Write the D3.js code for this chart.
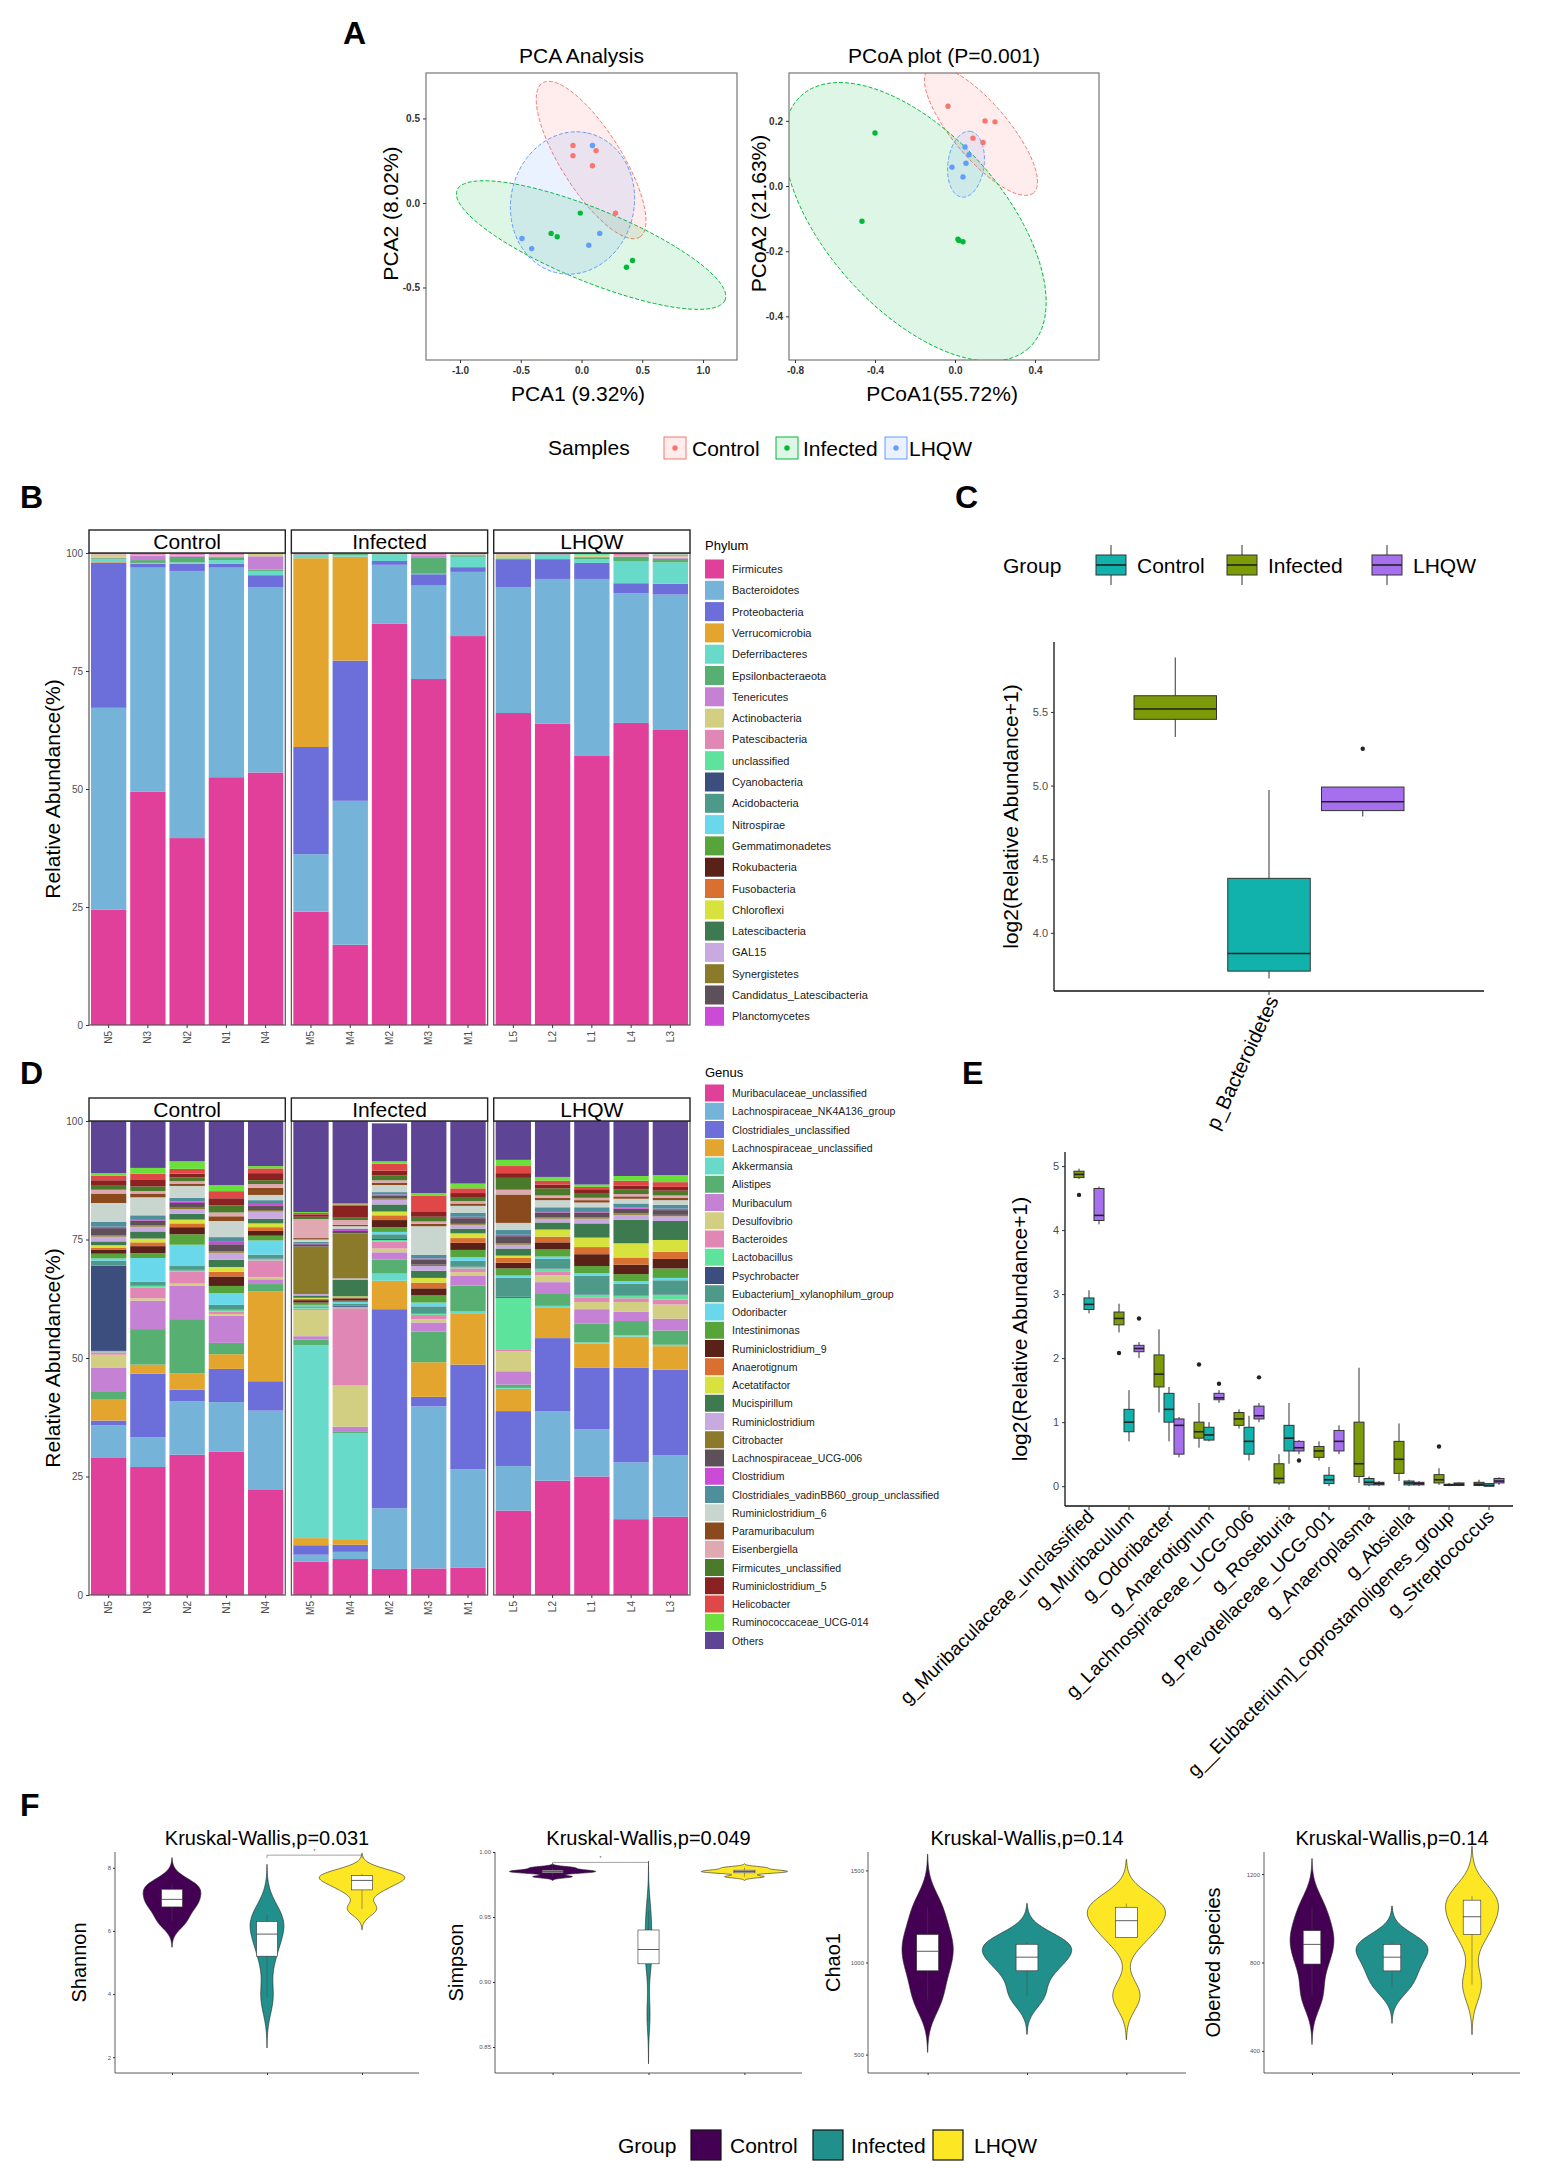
<!DOCTYPE html>
<html>
<head>
<meta charset="utf-8">
<script src="https://cdn.jsdelivr.net/npm/d3@7"></script>
<style>
  body { margin: 0; background: #fff; }
  text { font-family: "Liberation Sans", Arial, sans-serif; }
</style>
</head>
<body>
<svg id="fig" width="1562" height="2167"></svg>
<script>
// ---------------- data ----------------
const groups = ["Control", "Infected", "LHQW"];

// A: ordination scores
const pcaControl = [[-0.07, 0.34], [-0.07, 0.28], [0.12, 0.31], [0.09, 0.22], [0.28, -0.06]];
const pcaInfected = [[-0.01, -0.06], [-0.25, -0.18], [-0.20, -0.20], [0.37, -0.38], [0.42, -0.34]];
const pcaLHQW = [[0.09, 0.34], [0.15, -0.18], [0.06, -0.25], [-0.49, -0.21], [-0.41, -0.27]];
// ellipse: centre x, centre y, first semi-axis (dx, dy), second semi-axis (dx, dy)
const pcaEllipses = [
  [0.079, 0.254, 0.40, -0.456, 0.21, 0.095],
  [0.079, -0.249, 1.103, -0.325, -0.114, -0.198],
  [-0.074, 0.0, 0.124, 0.414, 0.496, -0.077]
];
const pcoaControl = [[-0.035, 0.245], [0.15, 0.20], [0.20, 0.197], [0.09, 0.147], [0.14, 0.134]];
const pcoaInfected = [[-0.40, 0.163], [-0.465, -0.108], [0.02, -0.167], [0.04, -0.171], [0.015, -0.163]];
const pcoaLHQW = [[0.05, 0.12], [0.055, 0.07], [-0.015, 0.058], [0.04, 0.028], [0.07, 0.096]];
const pcoaEllipses = [
  [0.13, 0.169, 0.2625, -0.19, -0.105, -0.055],
  [-0.20, -0.110, 0.568, -0.388, -0.3275, -0.180],
  [0.055, 0.067, 0.02, 0.101, 0.09, -0.006]
];

// B / D: samples per facet
const samplesByGroup = [["N5", "N3", "N2", "N1", "N4"], ["M5", "M4", "M2", "M3", "M1"], ["L5", "L2", "L1", "L4", "L3"]];

const phylumNames = ["Firmicutes", "Bacteroidotes", "Proteobacteria", "Verrucomicrobia", "Deferribacteres",
  "Epsilonbacteraeota", "Tenericutes", "Actinobacteria", "Patescibacteria", "unclassified", "Cyanobacteria",
  "Acidobacteria", "Nitrospirae", "Gemmatimonadetes", "Rokubacteria", "Fusobacteria", "Chloroflexi",
  "Latescibacteria", "GAL15", "Synergistetes", "Candidatus_Latescibacteria", "Planctomycetes"];
const phylumColors = ["#E0409A", "#76B3D8", "#6C6FDA", "#E3A52E", "#67DAC9", "#58AF72", "#C581D3", "#D3CF82",
  "#E087B5", "#5DE39B", "#3C4E7E", "#4E9A8A", "#68D8EA", "#57A43A", "#5A2119", "#D9702F", "#D7E23F",
  "#3D7A4F", "#C9AAE0", "#8B7A2A", "#5E5058", "#CB4BD6"];
const phylumControl = [
  [24.4, 42.8, 30.8, 0.1, 0.6, 0.2, 0.1, 0.7, 0.2, 0.1],
  [49.4, 47.5, 0.8, 0, 0.2, 0.6, 1.0, 0.1, 0.3, 0.1],
  [39.6, 56.6, 1.5, 0, 0.3, 1.2, 0.2, 0.1, 0.4, 0.1],
  [52.5, 44.4, 0.8, 0, 0.8, 0.6, 0.2, 0.2, 0.4, 0.1],
  [53.5, 39.3, 2.5, 0, 0.9, 0.3, 2.8, 0.5, 0.1, 0.1]
];
const phylumInfected = [
  [24.0, 12.2, 22.7, 40.0, 0.6, 0.2, 0.1, 0.1, 0, 0.1],
  [17.0, 30.5, 29.7, 22.0, 0.4, 0.2, 0.1, 0, 0, 0.1],
  [85.0, 12.5, 0.8, 0, 1.4, 0.2, 0, 0.1, 0, 0],
  [73.3, 19.8, 2.4, 0, 0.1, 3.5, 0.4, 0, 0.4, 0.1],
  [82.4, 13.6, 1.0, 0, 2.2, 0.2, 0.3, 0.1, 0.2, 0]
];
const phylumLHQW = [
  [66.1, 26.7, 5.9, 0, 0.1, 0.1, 0, 0.8, 0.1, 0.2],
  [63.8, 30.7, 4.2, 0, 0.8, 0.2, 0.1, 0.1, 0, 0.1],
  [57.0, 37.5, 3.4, 0, 0.8, 0.4, 0.1, 0.3, 0.1, 0.4],
  [64.0, 27.5, 2.1, 0, 4.7, 0.9, 0.1, 0.1, 0.4, 0.2],
  [62.5, 28.7, 2.3, 0, 4.5, 0.8, 0.2, 0.3, 0.4, 0.3]
];

const genusNames = ["Muribaculaceae_unclassified", "Lachnospiraceae_NK4A136_group", "Clostridiales_unclassified",
  "Lachnospiraceae_unclassified", "Akkermansia", "Alistipes", "Muribaculum", "Desulfovibrio", "Bacteroides",
  "Lactobacillus", "Psychrobacter", "Eubacterium]_xylanophilum_group", "Odoribacter", "Intestinimonas",
  "Ruminiclostridium_9", "Anaerotignum", "Acetatifactor", "Mucispirillum", "Ruminiclostridium", "Citrobacter",
  "Lachnospiraceae_UCG-006", "Clostridium", "Clostridiales_vadinBB60_group_unclassified", "Ruminiclostridium_6",
  "Paramuribaculum", "Eisenbergiella", "Firmicutes_unclassified", "Ruminiclostridium_5", "Helicobacter",
  "Ruminococcaceae_UCG-014", "Others"];
const genusColors = ["#E0409A", "#76B3D8", "#6C6FDA", "#E3A52E", "#67DAC9", "#58AF72", "#C581D3", "#D3CF82",
  "#E087B5", "#5DE39B", "#3C4E7E", "#4E9A8A", "#68D8EA", "#57A43A", "#5A2119", "#D9702F", "#D7E23F",
  "#3D7A4F", "#C9AAE0", "#8B7A2A", "#5E5058", "#CB4BD6", "#4F8E9B", "#C9D6D0", "#8B4A1E", "#E0A8B0",
  "#4A7A2A", "#8B2222", "#E04848", "#6BE03A", "#5E4494"];
const genusControl = [
  [28.9, 6.9, 1.0, 4.4, 0, 1.8, 4.9, 2.8, 0.5, 0.3, 18.0, 1.0, 0.5, 1.0, 0.8, 0.5, 0.5, 0.8, 1.0, 0.3, 1.5, 0.3, 1.0, 4.0, 2.0, 0.8, 1.0, 1.0, 1.0, 0.5, 11.0],
  [27.0, 6.3, 13.4, 1.9, 0, 7.5, 6.0, 0.5, 2.3, 0.3, 0.1, 0.8, 5.0, 1.0, 1.5, 0.8, 0.8, 1.5, 1.0, 0.3, 1.0, 0.3, 0.8, 3.8, 0.8, 0.5, 1.0, 1.5, 1.2, 1.2, 9.9],
  [29.6, 11.3, 2.4, 3.5, 0, 11.4, 7.0, 0.5, 2.5, 0.3, 0.1, 0.8, 4.5, 2.2, 1.5, 0.8, 0.8, 1.2, 1.0, 0.3, 1.0, 0.3, 0.8, 2.5, 0.5, 0.5, 0.8, 0.8, 1.0, 1.6, 8.4],
  [30.2, 10.5, 7.0, 3.1, 0, 2.4, 5.7, 0.4, 0.5, 0.3, 0.1, 1.0, 2.5, 1.5, 2.0, 1.0, 1.0, 1.5, 1.5, 0.3, 1.5, 0.5, 1.0, 3.4, 1.0, 0.8, 1.5, 1.5, 1.5, 1.3, 13.5],
  [22.3, 16.6, 6.2, 19.0, 0, 1.5, 1.0, 0.5, 3.5, 0.3, 0.1, 0.8, 3.0, 1.0, 1.0, 0.8, 0.8, 1.0, 1.5, 0.3, 1.0, 0.3, 0.8, 1.1, 1.5, 0.8, 0.8, 1.5, 1.0, 0.5, 9.5]
];
const genusInfected = [
  [7.0, 1.5, 2.0, 1.5, 40.7, 1.2, 0.7, 5.5, 0.3, 0.2, 0, 0.3, 0.3, 0.5, 0.5, 0.3, 0.2, 0.5, 0.3, 10.0, 0.5, 0.2, 0.3, 0.5, 0.3, 4.0, 0.5, 0.5, 0.3, 0.2, 19.2],
  [7.6, 1.5, 1.5, 1.0, 22.5, 0.3, 1.1, 8.7, 16.3, 0.3, 0.2, 0.5, 0.3, 0.3, 0.5, 0.2, 0.2, 3.5, 0.3, 9.5, 0.5, 0.2, 0.3, 0.5, 0.3, 1.0, 0.5, 2.5, 0.3, 0.2, 17.4],
  [5.5, 12.8, 42.0, 6.0, 1.5, 3.0, 1.5, 0.8, 1.5, 0.3, 0.2, 1.0, 0.5, 1.0, 1.5, 1.0, 0.8, 1.5, 1.0, 0.3, 0.5, 0.3, 0.5, 1.5, 0.5, 0.5, 1.0, 1.0, 1.5, 0.5, 8.0],
  [5.6, 34.2, 2.0, 7.3, 0, 6.5, 1.9, 0.7, 0.9, 0.2, 0.1, 1.5, 0.8, 1.5, 1.5, 1.2, 1.0, 1.5, 1.0, 0.3, 1.0, 0.3, 0.8, 6.0, 0.5, 0.5, 1.0, 1.0, 3.5, 0.5, 15.2],
  [5.8, 20.7, 22.1, 10.7, 0.5, 5.5, 2.0, 0.8, 0.8, 0.3, 0.1, 1.2, 0.8, 1.5, 1.5, 1.0, 1.0, 1.0, 0.8, 0.2, 1.2, 0.3, 0.8, 1.5, 0.5, 0.5, 0.7, 1.0, 1.0, 1.0, 13.2]
];
const genusLHQW = [
  [17.8, 9.4, 11.6, 4.7, 0.2, 0.7, 2.8, 4.2, 0.3, 11.0, 0.2, 4.0, 0.5, 1.5, 1.2, 1.0, 0.5, 1.5, 0.8, 0.3, 1.5, 0.3, 1.0, 1.5, 6.0, 1.0, 2.5, 1.0, 1.5, 1.3, 8.2],
  [24.1, 14.7, 15.4, 6.5, 0.3, 2.5, 2.5, 1.5, 0.8, 0.5, 0.1, 2.0, 0.5, 1.5, 1.5, 1.2, 1.5, 1.5, 0.8, 0.3, 1.0, 0.3, 0.8, 1.5, 0.5, 0.5, 1.5, 0.8, 0.8, 0.8, 11.8],
  [25.0, 10.0, 13.0, 5.0, 0.3, 4.0, 3.0, 1.5, 1.0, 0.5, 0.1, 4.0, 0.5, 1.5, 2.5, 1.5, 2.0, 3.0, 1.0, 0.3, 1.0, 0.3, 0.8, 1.0, 0.5, 0.5, 1.0, 0.8, 0.5, 0.5, 13.4],
  [16.0, 12.0, 20.0, 6.5, 0.3, 3.0, 2.0, 2.0, 0.8, 0.5, 0.1, 2.5, 0.5, 1.5, 2.0, 1.5, 3.0, 5.0, 1.0, 0.3, 1.0, 0.3, 0.8, 1.0, 0.5, 0.5, 1.0, 0.8, 1.0, 1.0, 11.6],
  [16.5, 13.0, 18.0, 5.0, 0.3, 3.0, 2.5, 3.0, 1.0, 1.0, 0.1, 3.0, 0.5, 2.0, 2.0, 1.5, 2.5, 4.0, 1.0, 0.3, 1.0, 0.3, 0.8, 1.0, 0.5, 0.5, 1.0, 0.8, 1.0, 1.5, 11.4]
];

// C / E: box statistics [lower whisker, q1, median, q3, upper whisker, outliers]
const boxColors = { Control: "#12B2AC", Infected: "#7D9B08", LHQW: "#A56FEE" };
const dodgeOrder = ["Infected", "Control", "LHQW"];
const cCategory = ["p_Bacteroidetes"];
const cControl = [[3.69, 3.74, 3.86, 4.37, 4.97, []]];
const cInfected = [[5.33, 5.45, 5.52, 5.61, 5.87, []]];
const cLHQW = [[4.79, 4.83, 4.89, 4.99, 4.99, [5.25]]];

const eCategories = ["g_Muribaculaceae_unclassified", "g_Muribaculum", "g_Odoribacter", "g_Anaerotignum",
  "g_Lachnospiraceae_UCG-006", "g_Roseburia", "g_Prevotellaceae_UCG-001", "g_Anaeroplasma", "g_Absiella",
  "g__Eubacterium]_coprostanoligenes_group", "g_Streptococcus"];
const eInfected = [
  [4.80, 4.82, 4.87, 4.92, 4.96, [4.55]], [2.40, 2.52, 2.62, 2.72, 2.85, [2.08]], [1.15, 1.55, 1.75, 2.05, 2.45, []],
  [0.60, 0.75, 0.85, 1.00, 1.30, [1.90]], [0.90, 0.95, 1.05, 1.15, 1.20, []], [0.02, 0.05, 0.12, 0.35, 0.50, []],
  [0.40, 0.45, 0.55, 0.62, 0.70, []], [0.05, 0.15, 0.35, 1.00, 1.85, []], [0.08, 0.20, 0.42, 0.70, 0.98, []],
  [0.02, 0.05, 0.10, 0.18, 0.28, [0.62]], [0, 0.01, 0.03, 0.06, 0.10, []]
];
const eControl = [
  [2.70, 2.76, 2.84, 2.94, 3.06, []], [0.70, 0.85, 1.00, 1.20, 1.50, []], [0.70, 1.00, 1.20, 1.45, 1.55, []],
  [0.70, 0.72, 0.80, 0.92, 1.00, []], [0.40, 0.50, 0.70, 0.92, 1.10, []], [0.35, 0.55, 0.75, 0.95, 1.30, []],
  [0.00, 0.04, 0.10, 0.17, 0.30, []], [0.00, 0.02, 0.06, 0.12, 0.15, []], [0.00, 0.02, 0.05, 0.08, 0.10, []],
  [0, 0.01, 0.02, 0.03, 0.05, []], [0, 0, 0.01, 0.04, 0.05, []]
];
const eLHQW = [
  [4.09, 4.15, 4.23, 4.65, 4.68, []], [2.00, 2.10, 2.15, 2.20, 2.25, [2.62]], [0.45, 0.50, 0.95, 1.05, 1.08, []],
  [1.30, 1.35, 1.38, 1.45, 1.50, [1.60]], [1.00, 1.05, 1.10, 1.25, 1.30, [1.70]], [0.50, 0.55, 0.60, 0.70, 0.72, [0.40]],
  [0.50, 0.55, 0.70, 0.87, 0.95, []], [0.00, 0.02, 0.04, 0.06, 0.08, []], [0.00, 0.02, 0.04, 0.06, 0.08, []],
  [0, 0.01, 0.03, 0.05, 0.06, []], [0.02, 0.05, 0.08, 0.12, 0.14, []]
];

// F: alpha diversity per sample (Control, Infected, LHQW)
const violinColors = { Control: "#440154", Infected: "#21908C", LHQW: "#FDE725" };
const shannon = [[6.3, 6.76, 7.0, 7.32, 7.5], [3.9, 5.2, 5.9, 6.3, 6.5], [6.7, 7.3, 7.6, 7.75, 7.8]];
const simpson = [[0.981, 0.984, 0.985, 0.986, 0.988], [0.875, 0.914, 0.925, 0.94, 0.955], [0.981, 0.984, 0.985, 0.986, 0.988]];
const chao1 = [[800, 955, 1061, 1152, 1300], [820, 955, 1029, 1099, 1110], [820, 1136, 1227, 1300, 1320]];
const observed = [[650, 793, 882, 944, 1050], [690, 762, 824, 882, 890], [700, 927, 1007, 1082, 1100]];
const fTitles = ["Kruskal-Wallis,p=0.031", "Kruskal-Wallis,p=0.049", "Kruskal-Wallis,p=0.14", "Kruskal-Wallis,p=0.14"];
const fLabels = ["Shannon", "Simpson", "Chao1", "Oberved species"];

// ---------------- drawing ----------------
const svg = d3.select("#fig");
svg.append("rect").attr("width", 1562).attr("height", 2167).attr("fill", "#fff");
const sampleColors = ["#F8766D", "#00BA38", "#619CFF"];

function txt(x, y, s, size, o = {}) {
  const t = svg.append("text").attr("x", x).attr("y", y).attr("font-size", size)
    .attr("fill", o.fill || "#000").attr("text-anchor", o.anchor || "start").text(s);
  if (o.bold) t.attr("font-weight", "bold");
  if (o.rotate) t.attr("transform", `rotate(${o.rotate},${x},${y})`);
  return t;
}

function styleAxis(a, size, color, bold) {
  a.select(".domain").remove();
  a.selectAll(".tick line").attr("stroke", "#333");
  a.selectAll(".tick text").attr("font-size", size).attr("fill", color)
    .attr("font-family", "'Liberation Sans', Arial, sans-serif")
    .attr("font-weight", bold ? "bold" : "normal");
}

// panel letters
[["A", 343, 44], ["B", 20, 508], ["C", 955, 508], ["D", 20, 1084], ["E", 962, 1084], ["F", 20, 1816]]
  .forEach(d => txt(d[1], d[2], d[0], 32, { bold: true }));

// ---- A ----
function scatterPanel(o) {
  const x = d3.scaleLinear().domain(o.xDomain).range([o.left, o.right]);
  const y = d3.scaleLinear().domain(o.yDomain).range([o.bottom, o.top]);
  const g = svg.append("g");
  g.append("clipPath").attr("id", o.id).append("rect")
    .attr("x", o.left).attr("y", o.top).attr("width", o.right - o.left).attr("height", o.bottom - o.top);
  const body = g.append("g").attr("clip-path", `url(#${o.id})`);
  const angles = d3.range(0, 2 * Math.PI, Math.PI / 90);
  o.ellipses.forEach((e, i) => {
    const pts = angles.map(t => [x(e[0] + e[2] * Math.cos(t) + e[4] * Math.sin(t)),
                                 y(e[1] + e[3] * Math.cos(t) + e[5] * Math.sin(t))]);
    body.append("path").attr("d", d3.line().curve(d3.curveLinearClosed)(pts))
      .attr("fill", sampleColors[i]).attr("fill-opacity", 0.13)
      .attr("stroke", sampleColors[i]).attr("stroke-width", 1).attr("stroke-dasharray", "4,2");
  });
  o.points.forEach((pts, i) => {
    body.append("g").selectAll("circle").data(pts).join("circle")
      .attr("cx", d => x(d[0])).attr("cy", d => y(d[1])).attr("r", 2.7).attr("fill", sampleColors[i]);
  });
  g.append("rect").attr("x", o.left).attr("y", o.top).attr("width", o.right - o.left)
    .attr("height", o.bottom - o.top).attr("fill", "none").attr("stroke", "#777").attr("stroke-width", 1.2);
  g.append("g").attr("transform", `translate(0,${o.bottom})`)
    .call(d3.axisBottom(x).tickValues(o.xTicks).tickSize(3).tickPadding(4).tickFormat(d => d.toFixed(1)))
    .call(a => styleAxis(a, 10, "#333", true));
  g.append("g").attr("transform", `translate(${o.left},0)`)
    .call(d3.axisLeft(y).tickValues(o.yTicks).tickSize(3).tickPadding(3).tickFormat(d => d.toFixed(1)))
    .call(a => styleAxis(a, 10, "#333", true));
  txt((o.left + o.right) / 2, 63, o.title, 21, { anchor: "middle" });
  txt(o.xLabelX, 401, o.xLabel, 21, { anchor: "middle" });
  txt(o.yLabelX, (o.top + o.bottom) / 2 - 3, o.yLabel, 21, { anchor: "middle", rotate: -90 });
}

scatterPanel({
  id: "clipPCA", left: 426, right: 737, top: 73, bottom: 360,
  xDomain: [-1.28, 1.28], yDomain: [-0.929, 0.769],
  xTicks: [-1, -0.5, 0, 0.5, 1], yTicks: [-0.5, 0, 0.5],
  points: [pcaControl, pcaInfected, pcaLHQW], ellipses: pcaEllipses,
  title: "PCA Analysis", xLabel: "PCA1 (9.32%)", xLabelX: 578, yLabel: "PCA2 (8.02%)", yLabelX: 398
});
scatterPanel({
  id: "clipPCoA", left: 789, right: 1099, top: 73, bottom: 360,
  xDomain: [-0.83, 0.72], yDomain: [-0.534, 0.347],
  xTicks: [-0.8, -0.4, 0, 0.4], yTicks: [-0.4, -0.2, 0, 0.2],
  points: [pcoaControl, pcoaInfected, pcoaLHQW], ellipses: pcoaEllipses,
  title: "PCoA plot (P=0.001)", xLabel: "PCoA1(55.72%)", xLabelX: 942, yLabel: "PCoA2 (21.63%)", yLabelX: 766
});

// samples legend
txt(548, 455, "Samples", 21);
[[664, 692], [776, 803], [885, 909]].forEach((p, i) => {
  svg.append("rect").attr("x", p[0]).attr("y", 437).attr("width", 22).attr("height", 22)
    .attr("fill", sampleColors[i]).attr("fill-opacity", 0.13).attr("stroke", sampleColors[i]).attr("stroke-width", 1);
  svg.append("circle").attr("cx", p[0] + 11).attr("cy", 448).attr("r", 2.7).attr("fill", sampleColors[i]);
  txt(p[1], 456, groups[i], 21);
});

// ---- B & D stacked bars ----
function stackPanel(o) {
  const fx = d3.scaleBand().domain(groups).range([89, 690]).paddingInner(0.03);
  const y = d3.scaleLinear().domain([0, 100]).range([o.bottom, o.top]);
  groups.forEach((grp, gi) => {
    const px = fx(grp), pw = fx.bandwidth();
    const x = d3.scaleBand().domain(samplesByGroup[gi]).range([px, px + pw]).paddingInner(0.1).paddingOuter(0.05);
    const rows = samplesByGroup[gi].map((s, si) => {
      const r = { sample: s };
      o.names.forEach((n, k) => { r[n] = o.data[gi][si][k] || 0; });
      return r;
    });
    const series = d3.stack().keys(o.names)(rows);
    const g = svg.append("g");
    g.selectAll("g").data(series).join("g").attr("fill", (d, k) => o.colors[k])
      .selectAll("rect").data(d => d).join("rect")
      .attr("x", d => x(d.data.sample)).attr("width", x.bandwidth())
      .attr("y", d => y(Math.min(d[1], 100))).attr("height", d => Math.max(0, y(d[0]) - y(Math.min(d[1], 100))));
    g.append("rect").attr("x", px).attr("y", o.top).attr("width", pw).attr("height", o.bottom - o.top)
      .attr("fill", "none").attr("stroke", "#555").attr("stroke-width", 1.2);
    g.append("rect").attr("x", px).attr("y", o.stripTop).attr("width", pw).attr("height", o.top - o.stripTop)
      .attr("fill", "#fff").attr("stroke", "#222").attr("stroke-width", 1.4);
    g.append("text").attr("x", px + pw / 2).attr("y", o.top - 4).attr("text-anchor", "middle")
      .attr("font-size", 21).text(grp);
    g.append("g").attr("transform", `translate(0,${o.bottom})`)
      .call(d3.axisBottom(x).tickSize(3))
      .call(a => styleAxis(a, 10, "#4d4d4d", false))
      .selectAll(".tick text").attr("transform", "rotate(-90)").attr("text-anchor", "end")
      .attr("x", -6).attr("y", 0).attr("dy", "0.35em");
  });
  svg.append("g").attr("transform", `translate(89,0)`)
    .call(d3.axisLeft(y).tickValues([0, 25, 50, 75, 100]).tickSize(3).tickPadding(3))
    .call(a => styleAxis(a, 10, "#4d4d4d", false));
  txt(60, (o.top + o.bottom) / 2, "Relative Abundance(%)", 21, { anchor: "middle", rotate: -90 });
  // legend
  txt(705, o.legendTitleY, o.legendTitle, 13);
  o.names.forEach((n, k) => {
    const cy = o.legendY0 + k * o.legendStep;
    svg.append("rect").attr("x", 705).attr("y", cy - o.swatch / 2).attr("width", 19).attr("height", o.swatch)
      .attr("fill", o.colors[k]);
    txt(732, cy + 4, n, o.legendFont, { fill: "#1a1a1a" });
  });
}

stackPanel({
  names: phylumNames, colors: phylumColors, data: [phylumControl, phylumInfected, phylumLHQW],
  stripTop: 530, top: 553, bottom: 1025,
  legendTitle: "Phylum", legendTitleY: 550, legendY0: 569, legendStep: 21.3, swatch: 19, legendFont: 11
});
stackPanel({
  names: genusNames, colors: genusColors, data: [genusControl, genusInfected, genusLHQW],
  stripTop: 1098, top: 1121, bottom: 1595,
  legendTitle: "Genus", legendTitleY: 1077, legendY0: 1093, legendStep: 18.25, swatch: 17, legendFont: 10.5
});

// ---- C & E boxplots ----
function drawBox(g, cx, w, y, s, color) {
  const [lo, q1, med, q3, hi, outs] = s;
  g.append("line").attr("x1", cx).attr("x2", cx).attr("y1", y(hi)).attr("y2", y(q3)).attr("stroke", "#333").attr("stroke-width", 1);
  g.append("line").attr("x1", cx).attr("x2", cx).attr("y1", y(q1)).attr("y2", y(lo)).attr("stroke", "#333").attr("stroke-width", 1);
  g.append("rect").attr("x", cx - w / 2).attr("y", y(q3)).attr("width", w).attr("height", Math.max(1, y(q1) - y(q3)))
    .attr("fill", color).attr("stroke", "#333").attr("stroke-width", 1);
  g.append("line").attr("x1", cx - w / 2).attr("x2", cx + w / 2).attr("y1", y(med)).attr("y2", y(med))
    .attr("stroke", "#222").attr("stroke-width", 1.6);
  g.selectAll(null).data(outs).join("circle").attr("cx", cx).attr("cy", d => y(d)).attr("r", 2.2).attr("fill", "#222");
}

function boxPanel(o) {
  const x = d3.scaleBand().domain(o.categories).range([o.left, o.right]).paddingInner(0).paddingOuter(0.1);
  const y = d3.scaleLinear().domain(o.yDomain).range([o.bottom, o.top]);
  const g = svg.append("g");
  o.categories.forEach((c, ci) => {
    const cx = x(c) + x.bandwidth() / 2;
    const dx = d3.scaleBand().domain(dodgeOrder).range([cx - o.dodge / 2, cx + o.dodge / 2]).paddingInner(o.gap);
    dodgeOrder.forEach(gr => {
      const s = o.data[gr][ci];
      drawBox(g, dx(gr) + dx.bandwidth() / 2, dx.bandwidth(), y, s, boxColors[gr]);
    });
  });
  g.append("line").attr("x1", o.left).attr("x2", o.left).attr("y1", o.top).attr("y2", o.bottom).attr("stroke", "#111").attr("stroke-width", 1.3);
  g.append("line").attr("x1", o.left).attr("x2", o.right).attr("y1", o.bottom).attr("y2", o.bottom).attr("stroke", "#111").attr("stroke-width", 1.3);
  g.append("g").attr("transform", `translate(${o.left},0)`)
    .call(d3.axisLeft(y).tickValues(o.yTicks).tickSize(3).tickPadding(3).tickFormat(o.fmt))
    .call(a => styleAxis(a, 11, "#4d4d4d", false));
  const xa = g.append("g").attr("transform", `translate(0,${o.bottom})`)
    .call(d3.axisBottom(x).tickSize(4))
    .call(a => styleAxis(a, o.xFont, "#000", false));
  xa.selectAll(".tick text").attr("transform", `rotate(${-o.angle})`).attr("text-anchor", "end")
    .attr("x", -4).attr("y", 6).attr("dy", "0.35em");
  txt(o.yLabelX, (o.top + o.bottom) / 2, "log2(Relative Abundance+1)", 21, { anchor: "middle", rotate: -90 });
}

boxPanel({
  categories: cCategory, left: 1054, right: 1484, top: 642, bottom: 991,
  yDomain: [3.605, 5.975], yTicks: [4.0, 4.5, 5.0, 5.5], fmt: d => d.toFixed(1),
  data: { Control: cControl, Infected: cInfected, LHQW: cLHQW }, dodge: 270, gap: 0.12,
  angle: 65, xFont: 20, yLabelX: 1018
});
// C legend
txt(1003, 573, "Group", 21);
[[1096, 1137], [1227, 1268], [1372, 1413]].forEach((p, i) => {
  const gr = groups[i];
  svg.append("line").attr("x1", p[0] + 15).attr("x2", p[0] + 15).attr("y1", 545).attr("y2", 585).attr("stroke", "#333");
  svg.append("rect").attr("x", p[0]).attr("y", 555).attr("width", 30).attr("height", 20)
    .attr("fill", boxColors[gr]).attr("stroke", "#333");
  svg.append("line").attr("x1", p[0]).attr("x2", p[0] + 30).attr("y1", 565).attr("y2", 565).attr("stroke", "#222").attr("stroke-width", 1.6);
  txt(p[1], 573, gr, 21);
});

boxPanel({
  categories: eCategories, left: 1065, right: 1513, top: 1152, bottom: 1506,
  yDomain: [-0.31, 5.22], yTicks: [0, 1, 2, 3, 4, 5], fmt: d3.format("d"),
  data: { Control: eControl, Infected: eInfected, LHQW: eLHQW }, dodge: 30, gap: 0,
  angle: 45, xFont: 19, yLabelX: 1027
});

// ---- F violins (untrimmed kernel density, nrd0 bandwidth) ----
function kde(values, n) {
  const sd = d3.deviation(values);
  const iqr = d3.quantile(values, 0.75) - d3.quantile(values, 0.25);
  const h = 0.9 * Math.min(sd, iqr / 1.34 || sd) * Math.pow(values.length, -0.2);
  const lo = d3.min(values) - 3 * h, hi = d3.max(values) + 3 * h;
  return d3.range(n + 1).map(i => {
    const v = lo + (hi - lo) * i / n;
    const dens = d3.mean(values, d => Math.exp(-0.5 * ((v - d) / h) ** 2) / (h * Math.sqrt(2 * Math.PI)));
    return [v, dens];
  });
}

function violinPanel(o) {
  const step = (o.right - o.left) / 3.2;
  const x = d3.scalePoint().domain(groups).range([o.left + 0.6 * step, o.right - 0.6 * step]);
  const y = d3.scaleLinear().domain(o.yDomain).range([o.bottom, o.top]);
  const g = svg.append("g");
  const dens = o.values.map(v => kde(v.slice().sort(d3.ascending), 120));
  const maxD = d3.max(dens, d => d3.max(d, p => p[1]));
  const w = d3.scaleLinear().domain([0, maxD]).range([0, 0.45 * step]);
  groups.forEach((gr, i) => {
    const cx = x(gr);
    const area = d3.area().curve(d3.curveBasis).y(p => y(p[0])).x0(p => cx - w(p[1])).x1(p => cx + w(p[1]));
    g.append("path").attr("d", area(dens[i])).attr("fill", violinColors[gr]).attr("stroke", "#222").attr("stroke-width", 0.6);
    const v = o.values[i].slice().sort(d3.ascending);
    const q1 = d3.quantile(v, 0.25), q3 = d3.quantile(v, 0.75), med = d3.median(v);
    const iqr = q3 - q1;
    const lo = d3.min(v.filter(d => d >= q1 - 1.5 * iqr)), hi = d3.max(v.filter(d => d <= q3 + 1.5 * iqr));
    const bw = 0.22 * step;
    g.append("line").attr("x1", cx).attr("x2", cx).attr("y1", y(hi)).attr("y2", y(lo)).attr("stroke", "#444").attr("stroke-width", 0.5);
    g.append("rect").attr("x", cx - bw / 2).attr("y", y(q3)).attr("width", bw).attr("height", y(q1) - y(q3))
      .attr("fill", "#fff").attr("stroke", "#333").attr("stroke-width", 0.6);
    g.append("line").attr("x1", cx - bw / 2).attr("x2", cx + bw / 2).attr("y1", y(med)).attr("y2", y(med)).attr("stroke", "#333").attr("stroke-width", 0.8);
  });
  if (o.bracket) {
    const by = y(o.bracket[2]);
    g.append("path").attr("d", `M${x(o.bracket[0])},${by + 3}V${by}H${x(o.bracket[1])}V${by + 3}`)
      .attr("fill", "none").attr("stroke", "#666").attr("stroke-width", 0.6);
    g.append("text").attr("x", (x(o.bracket[0]) + x(o.bracket[1])) / 2).attr("y", by - 2)
      .attr("text-anchor", "middle").attr("font-size", 5).attr("fill", "#444").text("*");
  }
  g.append("line").attr("x1", o.left).attr("x2", o.left).attr("y1", o.top).attr("y2", o.bottom).attr("stroke", "#333").attr("stroke-width", 0.8);
  g.append("line").attr("x1", o.left).attr("x2", o.right).attr("y1", o.bottom).attr("y2", o.bottom).attr("stroke", "#333").attr("stroke-width", 0.8);
  g.append("g").attr("transform", `translate(${o.left},0)`)
    .call(d3.axisLeft(y).tickValues(o.yTicks).tickSize(2).tickPadding(2).tickFormat(o.fmt))
    .call(a => styleAxis(a, 6, "#555", false));
  g.append("g").attr("transform", `translate(0,${o.bottom})`)
    .call(d3.axisBottom(x).tickSize(2).tickFormat(""))
    .call(a => styleAxis(a, 6, "#555", false));
  txt((o.left + o.right) / 2, 1845, o.title, 20, { anchor: "middle" });
  txt(o.yLabelX, (o.top + o.bottom) / 2, o.yLabel, 20, { anchor: "middle", rotate: -90 });
}

const fPanels = [
  { left: 115, right: 419, values: shannon, yDomain: [1.5, 8.5], yTicks: [2, 4, 6, 8], fmt: d3.format("d"), yLabelX: 86, bracket: ["Infected", "LHQW", 8.4] },
  { left: 495, right: 802, values: simpson, yDomain: [0.83, 1.0], yTicks: [0.85, 0.9, 0.95, 1.0], fmt: d => d.toFixed(2), yLabelX: 463, bracket: ["Control", "Infected", 0.992] },
  { left: 868, right: 1186, values: chao1, yDomain: [400, 1600], yTicks: [500, 1000, 1500], fmt: d3.format("d"), yLabelX: 840 },
  { left: 1264, right: 1520, values: observed, yDomain: [300, 1300], yTicks: [400, 800, 1200], fmt: d3.format("d"), yLabelX: 1220 }
];
fPanels.forEach((p, i) => violinPanel(Object.assign({ top: 1852, bottom: 2073, title: fTitles[i], yLabel: fLabels[i] }, p)));

// F legend
txt(618, 2153, "Group", 21);
[[691, 730], [813, 851], [933, 974]].forEach((p, i) => {
  svg.append("rect").attr("x", p[0]).attr("y", 2130).attr("width", 30).attr("height", 30)
    .attr("fill", violinColors[groups[i]]).attr("stroke", "#111").attr("stroke-width", 1.2);
  txt(p[1], 2153, groups[i], 21);
});
</script>
</body>
</html>
